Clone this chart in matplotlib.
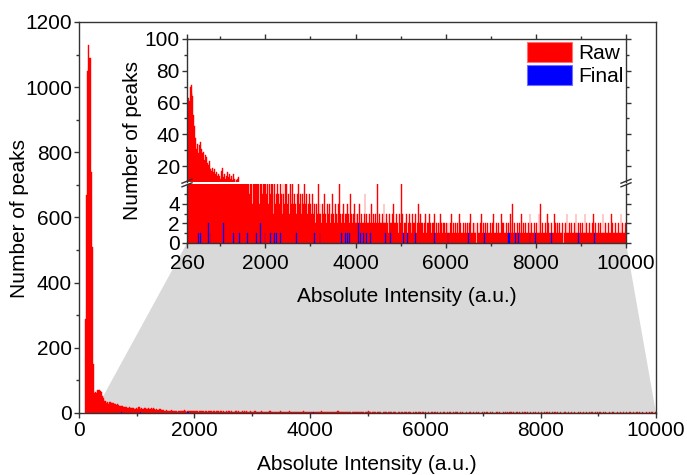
import numpy as np
import matplotlib
matplotlib.use('Agg')
import matplotlib.pyplot as plt
from matplotlib.ticker import FixedLocator, MultipleLocator
from matplotlib.patches import Polygon, Patch
from matplotlib.lines import Line2D

plt.rcParams['font.family'] = ['Liberation Sans', 'DejaVu Sans']
plt.rcParams['font.size'] = 15

# ---------------- data (histogram counts, bins of 20 a.u. starting at 100) ----------------
BIN_START = 100
BIN_WIDTH = 20

raw_peak = [290, 670, 1050, 1130, 1090, 740, 510, 150]          # 100 - 240
raw_upper = [62, 63, 61, 70, 71, 66, 64, 52, 45, 38,               # 260 - 440
             31, 34, 28, 33, 35, 30, 31, 28, 29, 24,               # 460 - 640
             27, 26, 22, 21, 23, 19, 18, 17, 19, 16,               # 660 - 840
             18, 15, 16, 14, 15, 13, 14, 12, 17, 19,               # 860 - 1040
             13, 15, 12, 14, 16, 11, 13, 15, 12, 14,               # 1060 - 1240
             11, 15, 12, 10, 11, 9, 12, 13, 8, 9,                  # 1260 - 1440
             8, 7, 9, 7]                                           # 1460 - 1520
raw_1540 = [6, 7, 6, 8, 6, 5, 7, 6, 4, 6, 7, 6, 5, 6, 8, 6, 4, 6, 6, 5, 7, 6, 5]
raw_2000 = [6, 5, 6, 4, 6, 5, 6, 6, 3, 5,
            6, 4, 5, 6, 5, 4, 6, 5, 3, 6,
            5, 4, 6, 6, 4, 5, 3, 6, 4, 5,
            6, 4, 5, 4, 3, 5, 6, 4, 5, 4,
            3, 5, 4, 6, 4, 5, 3, 4, 5, 4]
raw_3000 = [4, 3, 5, 3, 4, 2, 4, 3, 6, 3,
            4, 3, 2, 4, 3, 5, 3, 2, 4, 3,
            3, 4, 2, 3, 5, 3, 2, 4, 3, 2,
            3, 4, 6, 3, 2, 3, 4, 2, 3, 3,
            2, 4, 3, 2, 5, 3, 2, 3, 4, 2]
raw_4000 = [3, 2, 3, 2, 4, 2, 3, 2, 2, 3,
            5, 2, 3, 2, 2, 3, 2, 4, 2, 3,
            2, 2, 3, 2, 6, 2, 3, 2, 2, 3,
            2, 4, 2, 2, 3, 2, 1, 3, 2, 2,
            3, 2, 4, 2, 2, 3, 2, 1, 3, 2]
raw_5000 = [6, 2, 3, 1, 2, 2, 3, 1, 2, 3,
            2, 2, 1, 3, 2, 2, 3, 1, 2, 4,
            2, 1, 3, 2, 2, 1, 2, 3, 1, 2,
            2, 1, 3, 2, 1, 2, 2, 3, 1, 2,
            1, 2, 2, 1, 3, 2, 1, 2, 2, 1]
raw_6000 = [2, 1, 2, 1, 1, 2, 3, 1, 2, 1,
            2, 1, 1, 2, 1, 3, 2, 1, 1, 2,
            1, 2, 1, 1, 2, 1, 2, 3, 1, 1,
            2, 1, 2, 1, 0, 2, 1, 1, 2, 3,
            1, 2, 1, 1, 2, 1, 2, 1, 1, 2]
raw_7000 = [1, 2, 1, 3, 1, 1, 2, 1, 2, 1,
            1, 3, 2, 1, 2, 1, 1, 2, 1, 2,
            1, 3, 1, 2, 4, 1, 2, 1, 1, 2,
            1, 2, 1, 1, 3, 1, 2, 1, 2, 1,
            1, 2, 1, 3, 1, 2, 1, 1, 2, 1]
raw_8000 = [2, 1, 1, 3, 1, 4, 1, 2, 1, 1,
            2, 1, 3, 1, 2, 1, 1, 2, 1, 1,
            3, 2, 1, 1, 2, 1, 2, 1, 1, 2,
            0, 1, 2, 1, 3, 1, 1, 2, 1, 2,
            1, 1, 2, 1, 3, 1, 1, 2, 1, 2]
raw_9000 = [1, 2, 1, 1, 3, 1, 2, 1, 1, 2,
            1, 1, 2, 3, 1, 1, 2, 1, 1, 2,
            1, 2, 1, 1, 3, 1, 1, 2, 1, 1,
            2, 1, 1, 3, 1, 2, 1, 1, 2, 1,
            1, 2, 1, 1, 3, 1, 2, 1, 1, 2]

final_x = [500, 540, 720, 760, 1060, 1280, 1420, 1600, 1800, 1880, 1980, 2100, 2200,
           2240, 2320, 2680, 3080, 3200, 3680, 3760, 3820, 3860, 4060, 4100, 4160,
           4240, 4320, 4660, 4760, 5060, 5140, 5320, 5740, 6040, 6500, 6860, 7380,
           7400, 7540, 7600, 7860, 7980, 8340, 8940, 9300]
final_y = [1, 1, 2, 1, 2, 1, 1, 1, 1, 2, 1, 1, 1,
           1, 1, 1, 1, 1, 1, 1, 1, 1, 2, 1, 1,
           1, 1, 1, 1, 1, 1, 1, 1, 1, 1, 1, 1,
           1, 1, 1, 1, 1, 1, 1, 1]

main_xticks = [0, 2000, 4000, 6000, 8000, 10000]
main_yticks = [0, 200, 400, 600, 800, 1000, 1200]
inset_xticks = [260, 2000, 4000, 6000, 8000, 10000]
inset_xlabels = ['260', '2000', '4000', '6000', '8000', '10000']
inset_lo_yticks = [0, 2, 4]
inset_up_yticks = [20, 40, 60, 80, 100]

raw_counts = np.array(raw_peak + raw_upper + raw_1540 + raw_2000 + raw_3000 + raw_4000 +
                      raw_5000 + raw_6000 + raw_7000 + raw_8000 + raw_9000)
edges = BIN_START + BIN_WIDTH * np.arange(len(raw_counts))

RED = '#ff0000'
BLUE = '#0000ff'
SPINE = '#333333'

# ---------------- layout ----------------
W, H = 687, 475
fig = plt.figure(figsize=(W / 100, H / 100), dpi=100)


def fx(px):
    return px / W


def fy(py):
    return 1 - py / H


ax = fig.add_axes([fx(79), fy(413), fx(656) - fx(79), fy(22) - fy(413)])
ax_lo = fig.add_axes([fx(187), fy(243), fx(626) - fx(187), fy(184) - fy(243)])
ax_up = fig.add_axes([fx(187), fy(182), fx(626) - fx(187), fy(39) - fy(182)])

# ---------------- main plot ----------------
ax.bar(edges, raw_counts, width=BIN_WIDTH, align='edge', color=RED, edgecolor=RED,
       linewidth=0.3, zorder=2)
ax.bar(final_x, final_y, width=BIN_WIDTH, align='edge', color=BLUE, linewidth=0, zorder=3)
ax.set_xlim(0, 10000)
ax.set_ylim(0, 1200)
ax.set_xticks(main_xticks)
ax.set_yticks(main_yticks)
ax.xaxis.set_minor_locator(MultipleLocator(1000))
ax.yaxis.set_minor_locator(MultipleLocator(100))
ax.tick_params(which='both', direction='out', width=1, color=SPINE)
ax.tick_params(which='major', length=3.6)
ax.tick_params(which='minor', length=2.2)
ax.tick_params(axis='y', pad=1.5)
ax.tick_params(axis='x', pad=2.0)
for s in ax.spines.values():
    s.set_color(SPINE)
    s.set_linewidth(1.0)

# grey zoom wedge from inset bottom to main x-range
pos = ax_lo.get_position()
to_data = ax.transData.inverted()
bl = to_data.transform(fig.transFigure.transform((pos.x0, pos.y0)))
br = to_data.transform(fig.transFigure.transform((pos.x1, pos.y0)))
poly = Polygon([(inset_xticks[0], 0), bl, br, (inset_xticks[-1], 0)], closed=True,
               facecolor='#d9d9d9', edgecolor='none', zorder=1)
ax.add_patch(poly)

# ---------------- inset (broken y axis) ----------------
for a in (ax_lo, ax_up):
    a.set_facecolor('white')
    a.bar(edges, raw_counts, width=BIN_WIDTH, align='edge', color=RED, edgecolor=RED,
          linewidth=0.3, zorder=2)
    a.bar(final_x, final_y, width=BIN_WIDTH, align='edge', color=BLUE, edgecolor=BLUE,
          linewidth=0.2, zorder=3)
    a.set_xlim(inset_xticks[0], inset_xticks[-1])
    a.set_xticks(inset_xticks)
    a.xaxis.set_minor_locator(FixedLocator([1000, 3000, 5000, 7000, 9000]))
    a.tick_params(which='both', direction='out', width=1, color=SPINE)
    a.tick_params(which='major', length=3.6)
    a.tick_params(which='minor', length=2.2)
    a.tick_params(axis='y', which='both', left=True, right=True, pad=1.5)
    for s in a.spines.values():
        s.set_color(SPINE)
        s.set_linewidth(1.0)

ax_lo.set_ylim(0, 6)
ax_lo.set_yticks(inset_lo_yticks)
ax_lo.yaxis.set_minor_locator(FixedLocator([1, 3, 5]))
ax_lo.set_xticklabels(inset_xlabels)
ax_lo.spines['top'].set_visible(False)
ax_lo.tick_params(axis='x', which='both', top=False, bottom=True, pad=4.0)

ax_up.set_ylim(10, 100)
ax_up.set_yticks(inset_up_yticks)
ax_up.yaxis.set_minor_locator(FixedLocator([30, 50, 70, 90]))
ax_up.spines['bottom'].set_visible(False)
ax_up.tick_params(axis='x', which='both', top=True, bottom=False, labelbottom=False)

# break marks
for xc in (187, 626):
    for off in (-1.8, 1.8):
        yc = 183 + off
        fig.add_artist(Line2D([fx(xc - 5), fx(xc + 5)], [fy(yc + 2), fy(yc - 2)],
                              color=SPINE, linewidth=1.0))

# legend
handles = [Patch(facecolor=RED, edgecolor='#ff7070', linewidth=0.8),
           Patch(facecolor=BLUE, edgecolor='#7070ff', linewidth=0.8)]
ax_up.legend(handles, ['Raw', 'Final'], loc='upper right',
             bbox_to_anchor=(fx(624), fy(42)), bbox_transform=fig.transFigure,
             frameon=False, handlelength=2.2, handleheight=1.1, handletextpad=0.3,
             labelspacing=0.1, borderpad=0, borderaxespad=0, fontsize=15)

# axis labels
fig.text(fx(20), fy(219), 'Number of peaks', rotation=90, ha='center', va='center')
fig.text(fx(367), fy(465), 'Absolute Intensity (a.u.)', ha='center', va='center')
fig.text(fx(132), fy(141), 'Number of peaks', rotation=90, ha='center', va='center')
fig.text(fx(407), fy(297), 'Absolute Intensity (a.u.)', ha='center', va='center')

fig.savefig('out.png', dpi=100)
